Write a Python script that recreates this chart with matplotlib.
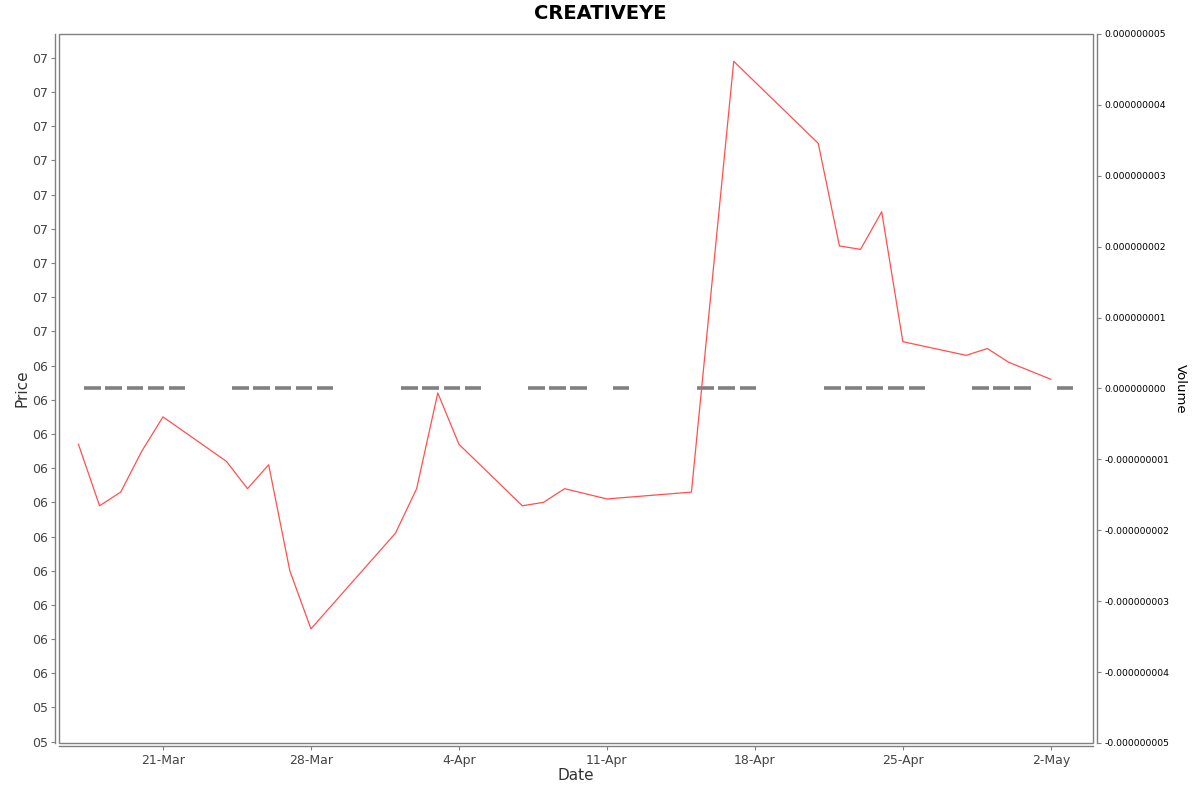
import matplotlib
matplotlib.use("Agg")
import matplotlib.pyplot as plt
import matplotlib.dates as mdates
import matplotlib.ticker as mticker
from matplotlib.patches import Rectangle
import pandas as pd

# data
price_dates = ["2025-03-17", "2025-03-18", "2025-03-19", "2025-03-20", "2025-03-21",
               "2025-03-24", "2025-03-25", "2025-03-26", "2025-03-27", "2025-03-28",
               "2025-04-01", "2025-04-02", "2025-04-03", "2025-04-04",
               "2025-04-07", "2025-04-08", "2025-04-09", "2025-04-11",
               "2025-04-15", "2025-04-17",
               "2025-04-21", "2025-04-22", "2025-04-23", "2025-04-24", "2025-04-25",
               "2025-04-28", "2025-04-29", "2025-04-30", "2025-05-02"]
price = [6.17, 5.99, 6.03, 6.15, 6.25,
         6.12, 6.04, 6.11, 5.80, 5.63,
         5.91, 6.04, 6.32, 6.17,
         5.99, 6.00, 6.04, 6.01,
         6.03, 7.29,
         7.05, 6.75, 6.74, 6.85, 6.47,
         6.43, 6.45, 6.41, 6.36]

vol_dates = ["2025-03-17", "2025-03-18", "2025-03-19", "2025-03-20", "2025-03-21",
             "2025-03-24", "2025-03-25", "2025-03-26", "2025-03-27", "2025-03-28",
             "2025-04-01", "2025-04-02", "2025-04-03", "2025-04-04",
             "2025-04-07", "2025-04-08", "2025-04-09", "2025-04-11",
             "2025-04-15", "2025-04-16", "2025-04-17",
             "2025-04-21", "2025-04-22", "2025-04-23", "2025-04-24", "2025-04-25",
             "2025-04-28", "2025-04-29", "2025-04-30", "2025-05-02"]
volume = [0] * len(vol_dates)

x_ticks = ["2025-03-21", "2025-03-28", "2025-04-04", "2025-04-11",
           "2025-04-18", "2025-04-25", "2025-05-02"]

px = pd.to_datetime(price_dates)
vx = pd.to_datetime(vol_dates) + pd.Timedelta(hours=16)

gray = "#808080"

fig = plt.figure(figsize=(12, 7.92), dpi=100)
ax = fig.add_axes([0.0492, 0.0619, 0.8617, 0.9571 - 0.0619])
ax2 = ax.twinx()

# volume (all zero) drawn as flat bars on the right axis
ax2.bar(vx, volume, width=0.78, color=gray, edgecolor=gray, linewidth=2.6, zorder=1)
ax2.set_ylim(-5e-9, 5e-9)
ax2.yaxis.set_major_locator(mticker.MultipleLocator(1e-9))
ax2.yaxis.set_major_formatter(mticker.FuncFormatter(lambda v, _: "%.9f" % v))
ax2.set_ylabel("Volume", rotation=270, labelpad=13, fontsize=9.5)

# price on top
ax.set_zorder(ax2.get_zorder() + 1)
ax.patch.set_visible(False)
ax.plot(px, price, color="#ff5050", lw=0.9)

ax.set_ylim(5.2962, 7.370)
ax.yaxis.set_major_locator(mticker.MultipleLocator(0.1))
ax.yaxis.set_major_formatter(mticker.FuncFormatter(lambda v, _: "%02d" % int(v + 0.5 + 1e-6)))

ax.set_xlim(pd.Timestamp("2025-03-16 02:00"), pd.Timestamp("2025-05-04 00:00"))
ax.set_xticks(pd.to_datetime(x_ticks))
ax.xaxis.set_major_formatter(mticker.FuncFormatter(
    lambda v, _: "%d-%s" % (mdates.num2date(v).day, mdates.num2date(v).strftime("%b"))))

ax.set_xlabel("Date", fontsize=11, color="#333333", labelpad=1)
ax.set_ylabel("Price", fontsize=11, color="#333333", labelpad=2)

# spines: full frame plus offset axis lines
for a in (ax, ax2):
    for s in a.spines.values():
        s.set_visible(False)
ax.spines["left"].set_visible(True)
ax.spines["left"].set_position(("outward", 3))
ax.spines["bottom"].set_visible(True)
ax.spines["bottom"].set_position(("outward", 2))
ax2.spines["right"].set_visible(True)
ax2.spines["right"].set_position(("outward", 3))
for s in (ax.spines["left"], ax.spines["bottom"], ax2.spines["right"]):
    s.set_color(gray)
    s.set_linewidth(1.0)
ax.add_patch(Rectangle((0, 0), 1, 1, transform=ax.transAxes, fill=False,
                       edgecolor=gray, lw=1.0, clip_on=False, zorder=5))

ax.tick_params(axis="y", length=3, color=gray, labelcolor="#444444", labelsize=9, pad=2)
ax.tick_params(axis="x", length=3, color=gray, labelcolor="#444444", labelsize=9, pad=3)
ax2.tick_params(axis="y", length=3, color=gray, labelcolor="black", labelsize=6.7, pad=2)

fig.text(0.5, 0.983, "CREATIVEYE", ha="center", va="center", fontsize=14, fontweight="bold")

fig.savefig("out.png", dpi=100)
